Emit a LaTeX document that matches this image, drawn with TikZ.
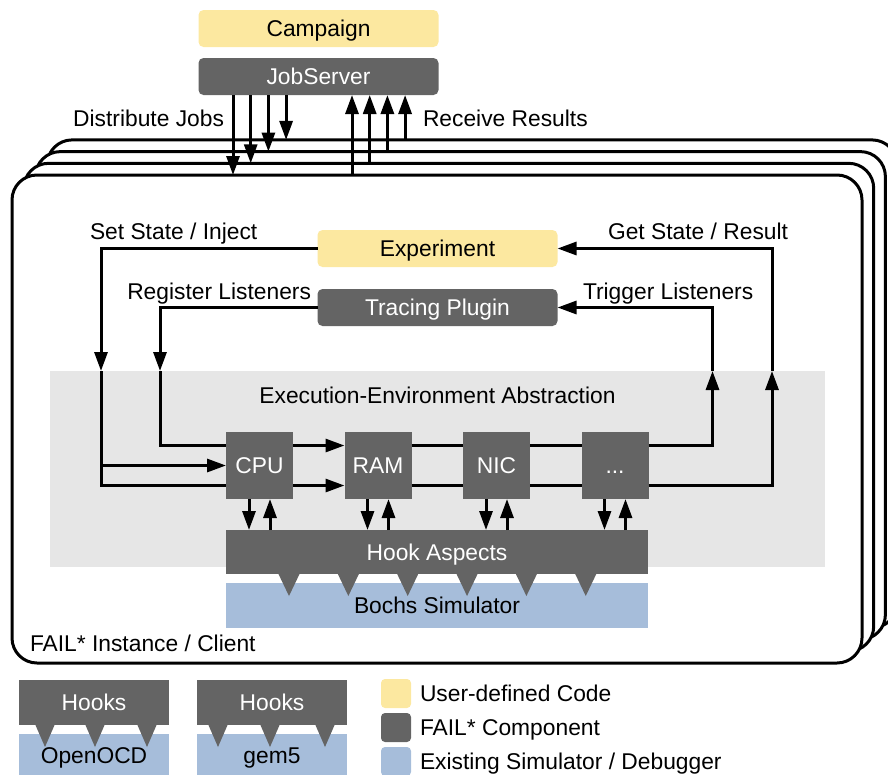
\documentclass[tikz,border=0pt]{standalone}
\usepackage{fontspec}
\setmainfont{Liberation Sans}
\usetikzlibrary{arrows.meta,calc}
\definecolor{usercode}{HTML}{FCE8A0}
\definecolor{failcomp}{HTML}{646464}
\definecolor{simblue}{HTML}{A6BDDA}
\definecolor{eeagray}{HTML}{E6E6E6}

\begin{document}
\begin{tikzpicture}[x=1pt,y=-1pt,
  every node/.style={font=\fontsize{22.8}{27}\selectfont, text height=16.3pt, text depth=0pt, inner sep=0pt, outer sep=0pt},
  box/.style={minimum width=240pt, minimum height=37pt, rounded corners=5pt},
  userbox/.style={box, fill=usercode},
  failbox/.style={box, fill=failcomp, text=white},
  unitbox/.style={fill=failcomp, text=white, minimum width=67pt, minimum height=67pt},
  layerbox/.style={minimum width=422pt},
  wire/.style={line width=3pt},
  arr/.style={wire, -{Triangle[width=13pt,length=19pt]}},
  instframe/.style={draw, line width=3pt, fill=white, rounded corners=25pt, minimum width=850pt, minimum height=488pt},
  tooth/.style={fill=failcomp},
  swatch/.style={minimum width=30pt, minimum height=29pt, rounded corners=4pt},
  legendtext/.style={anchor=west}
]
\useasboundingbox (0,0) rectangle (888,774);

% stacked client instances, back to front
\foreach \k in {3,2,1,0} {
  \node[instframe] (inst\k) at ({437+11.7*\k},{419-11.7*\k}) {};
}

% campaign side
\node[userbox] (camp) at (318.5,28.5) {Campaign};
\node[failbox] (js) at (318.5,76.5) {JobServer};

\foreach \k in {0,...,3} {
  \coordinate (dn\k) at ([xshift={(-85.5+17.7*\k)*1pt}]js.south);
  \coordinate (up\k) at ([xshift={(33.5+17.7*\k)*1pt}]js.south);
  \draw[arr] (dn\k) -- (dn\k |- inst\k.north);
  \draw[arr] (up\k |- inst\k.north) -- (up\k);
}
\node[anchor=east] (distlbl) at (224,118) {Distribute Jobs};
\node[anchor=west] (recvlbl) at (423,118) {Receive Results};

% experiment and tracing
\node[userbox] (exp) at (437.5,248.5) {Experiment};
\node[failbox] (tp) at (437.5,307.5) {Tracing Plugin};
\node[anchor=west] (setlbl) at (90,231) {Set State / Inject};
\node[anchor=east] (getlbl) at (788,231) {Get State / Result};
\node[anchor=east] (reglbl) at (311,291) {Register Listeners};
\node[anchor=west] (trglbl) at (583,291) {Trigger Listeners};

% execution-environment abstraction
\node[fill=eeagray, minimum width=775pt, minimum height=196pt] (eea) at (437.5,469) {};
\node (eealbl) at (437.5,395) {Execution-Environment Abstraction};

\node[unitbox] (cpu) at (259.5,465.5) {CPU};
\node[unitbox] (ram) at (378,465.5) {RAM};
\node[unitbox] (nic) at (496.5,465.5) {NIC};
\node[unitbox] (dots) at (615,465.5) {...};

\node[layerbox, fill=failcomp, text=white, minimum height=44pt] (hook) at (437,552) {Hook Aspects};
\node[layerbox, fill=simblue, minimum height=45pt] (bochs) at (437,605.5) {Bochs Simulator};
\foreach \i in {0,...,5} {
  \fill[tooth] ($(hook.south west)+({52+59.35*\i},-1)$) -- ++(22,0) -- ++(-11,23) -- cycle;
}

\coordinate (xa) at (101,0);
\coordinate (xb) at (160,0);
\coordinate (xc) at (712.5,0);
\coordinate (xd) at (772,0);

% state / inject path
\draw[arr] (exp.west) -| (xa |- eea.north);
\draw[wire] (xa |- eea.north) |- ([yshift=-20pt]cpu.west);
\draw[arr] (xa |- cpu.west) -- (cpu.west);
\draw[arr] ([yshift=-20pt]cpu.east) -- ([yshift=-20pt]ram.west);
\draw[wire] ([yshift=-20pt]ram.east) -- ([yshift=-20pt]nic.west);
\draw[wire] ([yshift=-20pt]nic.east) -- ([yshift=-20pt]dots.west);
\draw[arr] ([yshift=-20pt]dots.east) -| (xd |- eea.north);
\draw[arr] (xd |- eea.north) |- (exp.east);

% listener path
\draw[arr] (tp.west) -| (xb |- eea.north);
\draw[wire] (xb |- eea.north) |- ([yshift=20pt]cpu.west);
\draw[arr] ([yshift=20pt]cpu.east) -- ([yshift=20pt]ram.west);
\draw[wire] ([yshift=20pt]ram.east) -- ([yshift=20pt]nic.west);
\draw[wire] ([yshift=20pt]nic.east) -- ([yshift=20pt]dots.west);
\draw[arr] ([yshift=20pt]dots.east) -| (xc |- eea.north);
\draw[arr] (xc |- eea.north) |- (tp.east);

% units to hook aspects
\foreach \u in {cpu,ram,nic,dots} {
  \coordinate (\u d) at ([xshift=-10.5pt]\u.south);
  \coordinate (\u u) at ([xshift=10.5pt]\u.south);
  \draw[arr] (\u d) -- (\u d |- hook.north);
  \draw[arr] (\u u |- hook.north) -- (\u u);
}

\node[anchor=west] (instlbl) at (30,643) {FAIL* Instance / Client};

% other back ends
\node[fill=failcomp, text=white, minimum width=150pt, minimum height=45pt] (hk1) at (94,702.5) {Hooks};
\node[fill=simblue, minimum width=150pt, minimum height=44pt] (ocd) at (94,755.5) {OpenOCD};
\node[fill=failcomp, text=white, minimum width=150pt, minimum height=45pt] (hk2) at (272,702.5) {Hooks};
\node[fill=simblue, minimum width=150pt, minimum height=44pt] (gem) at (272,755.5) {gem5};
\foreach \t in {26,76,128} {
  \fill[tooth] ($(hk1.south west)+(\t-10,-1)$) -- ++(20,0) -- ++(-10,23) -- cycle;
}
\foreach \t in {21,73,128} {
  \fill[tooth] ($(hk2.south west)+(\t-10,-1)$) -- ++(20,0) -- ++(-10,23) -- cycle;
}

% legend
\node[swatch, fill=usercode] (sw1) at (396,693.5) {};
\node[swatch, fill=failcomp] (sw2) at (396,727.5) {};
\node[swatch, fill=simblue] (sw3) at (396,761.5) {};
\node[legendtext] (lg1) at (420,693) {User-defined Code};
\node[legendtext] (lg2) at (420,727.5) {FAIL* Component};
\node[legendtext] (lg3) at (420,761) {Existing Simulator / Debugger};
\end{tikzpicture}
\end{document}
